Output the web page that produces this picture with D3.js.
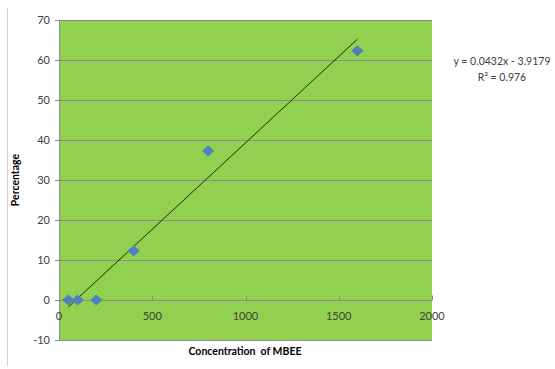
<!DOCTYPE html>
<html><head><meta charset="utf-8">
<script src="https://cdn.jsdelivr.net/npm/d3@7"></script>
<style>body{margin:0;background:#fff;}svg{display:block;font-family:Lato,"Open Sans",sans-serif;}text{white-space:pre;}</style>
</head><body>
<svg id="c" width="555" height="369"></svg>
<script>
const concentration = [50, 100, 200, 400, 800, 1600];
const percentage = [0, 0, 0, 12.3, 37.3, 62.3];
const xTicks = [0, 500, 1000, 1500, 2000];
const yTicks = [-10, 0, 10, 20, 30, 40, 50, 60, 70];
const slope = 0.0432, intercept = -3.9179;
const eqLabel = "y = 0.0432x - 3.9179";
const r2Label = "R² = 0.976";
const xTitle = "Concentration  of MBEE";
const yTitle = "Percentage";

const svg = d3.select("#c");
const L = 59, R = 432, T = 20, B = 340;
const x = d3.scaleLinear().domain([0, 2000]).range([L, R]);
const y = d3.scaleLinear().domain([-10, 70]).range([B, T]);

svg.append("line").attr("x1", 7.5).attr("x2", 7.5).attr("y1", 8).attr("y2", 366)
  .attr("stroke", "#d0d0d0").attr("stroke-width", 1);

svg.append("rect").attr("x", L).attr("y", T).attr("width", R - L).attr("height", B - T).attr("fill", "#92d050");

svg.append("g").selectAll("line").data(yTicks).join("line")
  .attr("x1", L - 4).attr("x2", R).attr("y1", d => Math.round(y(d)) + 0.5).attr("y2", d => Math.round(y(d)) + 0.5)
  .attr("stroke", "#8c8c8c").attr("stroke-width", 1);

svg.append("line").attr("x1", L + 0.5).attr("x2", L + 0.5).attr("y1", T).attr("y2", B).attr("stroke", "#8c8c8c");

svg.append("g").selectAll("text").data(yTicks).join("text")
  .attr("x", L - 9).attr("y", d => y(d) + 4).attr("text-anchor", "end")
  .attr("font-size", 11).attr("fill", "#404040").text(d => d);

const y0 = Math.round(y(0)) + 0.5;
svg.append("line").attr("x1", L).attr("x2", R).attr("y1", y0).attr("y2", y0).attr("stroke", "#8c8c8c");
svg.append("g").selectAll("line").data(xTicks).join("line")
  .attr("x1", d => Math.round(x(d)) + 0.5).attr("x2", d => Math.round(x(d)) + 0.5)
  .attr("y1", y0).attr("y2", y0 - 5).attr("stroke", "#8c8c8c");
svg.append("g").selectAll("text").data(xTicks).join("text")
  .attr("x", d => x(d)).attr("y", y0 + 19).attr("text-anchor", "middle")
  .attr("font-size", 11).attr("fill", "#404040").text(d => d);

const xs = [d3.min(concentration), d3.max(concentration)];
svg.append("line")
  .attr("x1", x(xs[0])).attr("y1", y(slope * xs[0] + intercept))
  .attr("x2", x(xs[1])).attr("y2", y(slope * xs[1] + intercept))
  .attr("stroke", "#1f2a10").attr("stroke-width", 1);

const diamond = d3.symbol().type(d3.symbolDiamond2).size(80);
svg.append("g").selectAll("path").data(concentration).join("path")
  .attr("d", diamond)
  .attr("transform", (d, i) => `translate(${x(d)},${y(percentage[i])}) scale(1.1,1)`)
  .attr("fill", "#4f81bd");

svg.append("text").attr("x", 245).attr("y", 355).attr("text-anchor", "middle")
  .attr("font-size", 10.5).attr("font-weight", "bold").attr("fill", "#000").text(xTitle);
svg.append("text").attr("transform", "translate(19,180) rotate(-90)").attr("text-anchor", "middle")
  .attr("font-size", 10.5).attr("font-weight", "bold").attr("fill", "#000").text(yTitle);

svg.append("text").attr("x", 502).attr("y", 65).attr("text-anchor", "middle")
  .attr("font-size", 10.5).attr("fill", "#404040").text(eqLabel);
svg.append("text").attr("x", 502).attr("y", 81).attr("text-anchor", "middle")
  .attr("font-size", 10.5).attr("fill", "#404040").text(r2Label);
</script>
</body></html>
